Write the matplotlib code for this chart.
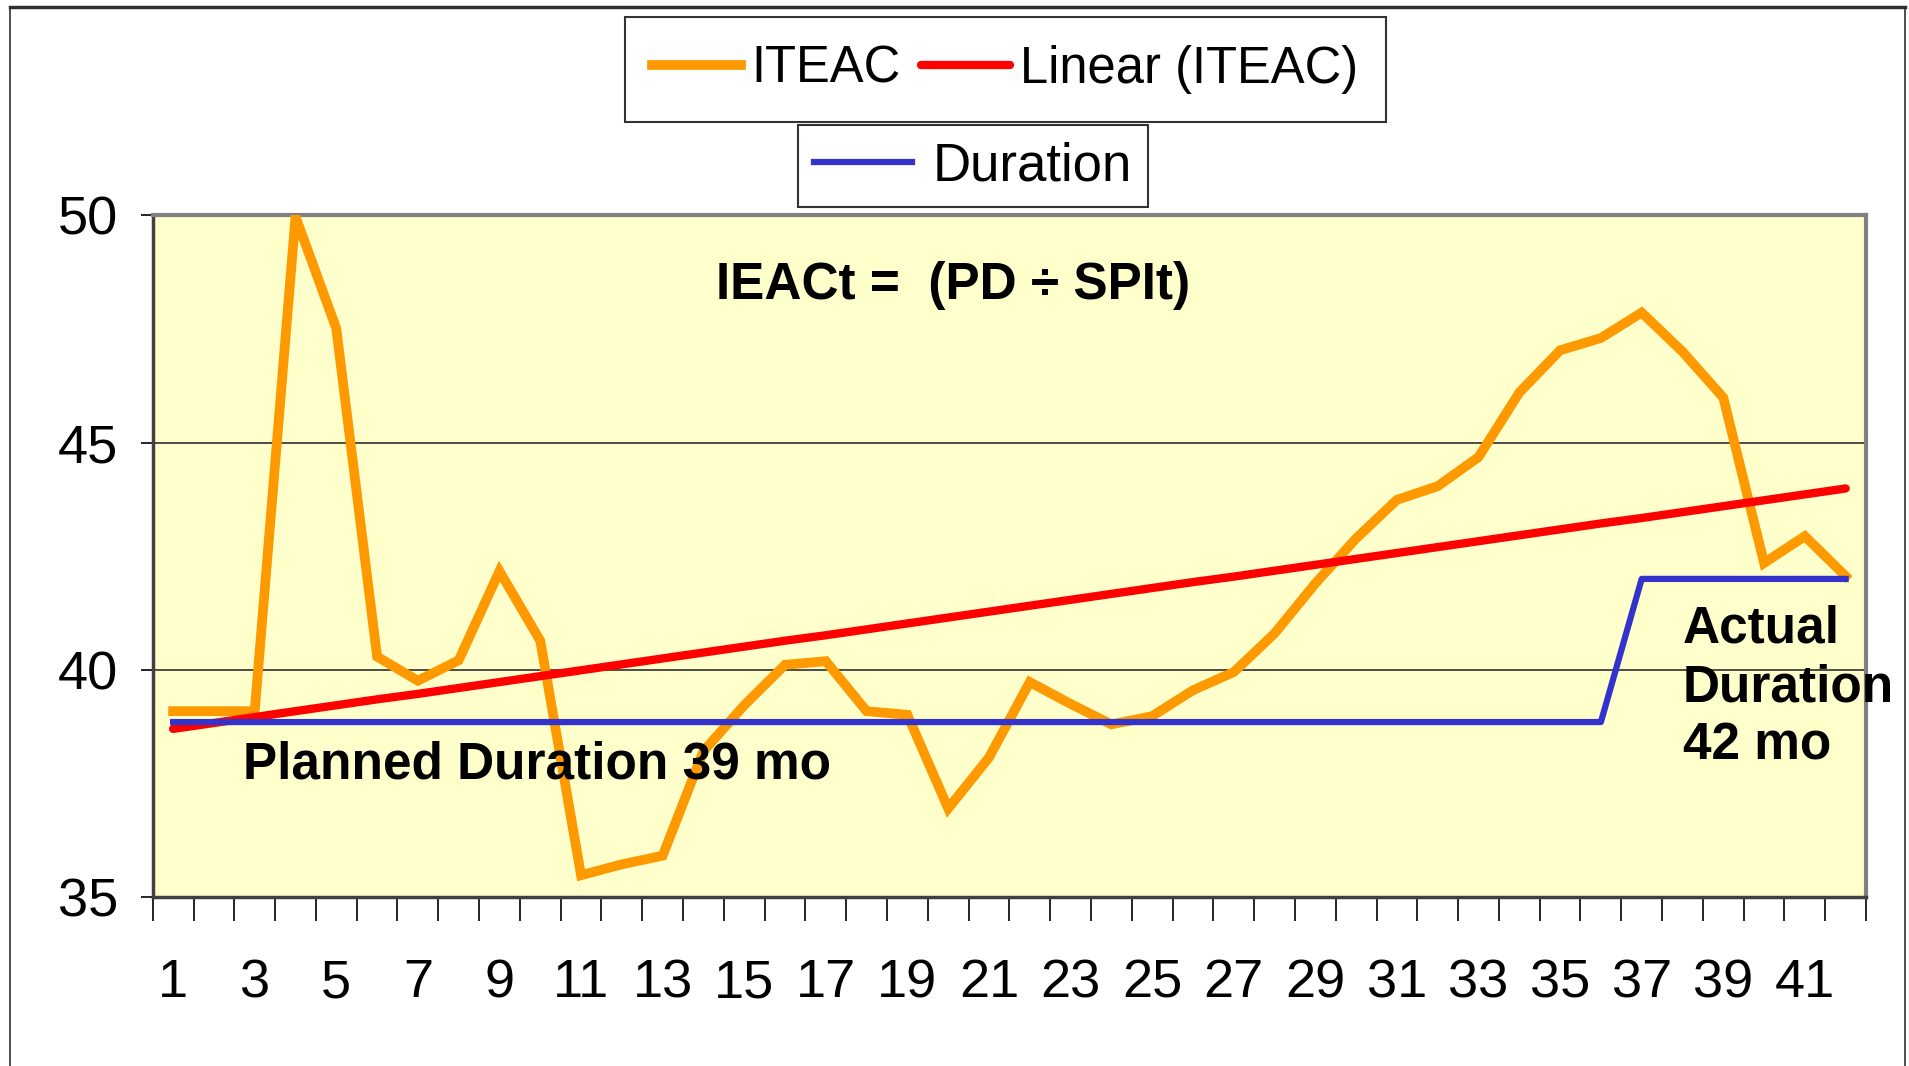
import numpy as np
import matplotlib
matplotlib.use('Agg')
import matplotlib.pyplot as plt
from matplotlib.ticker import MultipleLocator, FixedLocator
from matplotlib.lines import Line2D

plt.rcParams['font.family'] = ['Liberation Sans', 'DejaVu Sans']

#--data
months = list(range(1, 43))
iteac = [39.09, 39.09, 39.09, 49.97, 47.51, 40.29, 39.76, 40.21, 42.17, 40.64,
         35.48, 35.72, 35.91, 38.21, 39.22, 40.11, 40.19, 39.09, 39.01, 36.95,
         38.07, 39.73, 39.25, 38.80, 38.98, 39.55, 39.95, 40.80, 41.90, 42.89,
         43.74, 44.04, 44.68, 46.10, 47.03, 47.30, 47.86, 47.00, 45.99, 42.35,
         42.94, 42.06]
linear = [38.70, 38.83, 38.96, 39.09, 39.22, 39.35, 39.47, 39.60, 39.73, 39.86,
          39.99, 40.12, 40.25, 40.38, 40.51, 40.64, 40.76, 40.89, 41.02, 41.15,
          41.28, 41.41, 41.54, 41.67, 41.80, 41.93, 42.05, 42.18, 42.31, 42.44,
          42.57, 42.70, 42.83, 42.96, 43.09, 43.22, 43.34, 43.47, 43.60, 43.73,
          43.86, 43.99]
duration = [38.85]*36 + [42.0]*6
xticklabels = [str(m) for m in range(1, 42, 2)]

fig = plt.figure(figsize=(19.09, 10.66), dpi=100)
ax = fig.add_axes([0.080, 0.1585, 0.8975, 0.6395])
ax.set_facecolor('#FFFFCC')

#--gridlines
for yv in [40, 45]:
    ax.axhline(yv, color='#303030', lw=1.2, zorder=1)

l1, = ax.plot(months, iteac, color='#FF9900', lw=7, solid_joinstyle='miter', zorder=3)
l2, = ax.plot(months, linear, color='#FF0000', lw=6, solid_capstyle='round', zorder=4)
l3, = ax.plot(months, duration, color='#3333CC', lw=4.5, zorder=5)

ax.set_xlim(0.5, 42.5)
ax.set_ylim(35, 50)

ax.xaxis.set_major_locator(FixedLocator(range(1, 42, 2)))
ax.set_xticklabels(xticklabels)
ax.xaxis.set_minor_locator(MultipleLocator(1, offset=0.5))
ax.yaxis.set_major_locator(MultipleLocator(5))
ax.tick_params(axis='x', which='major', length=0, pad=44, labelsize=39)
ax.tick_params(axis='x', which='minor', length=17, width=1.2, direction='out', color='black')
ax.tick_params(axis='y', which='major', length=9, width=1.2, direction='out', pad=16, labelsize=39)

for s in ['top', 'right']:
    ax.spines[s].set_color('#808080')
    ax.spines[s].set_linewidth(3)
for s in ['left', 'bottom']:
    ax.spines[s].set_color('#404040')
    ax.spines[s].set_linewidth(2.5)

#--annotations
ax.text(0.329, 0.897, 'IEACt =  (PD \u00f7 SPIt)', transform=ax.transAxes,
        fontsize=37, fontweight='bold', ha='left', va='center')
ax.text(0.0528, 0.194, 'Planned Duration 39 mo', transform=ax.transAxes,
        fontsize=37, fontweight='bold', ha='left', va='center')
ax.text(0.893, 0.307, 'Actual\nDuration\n42 mo', transform=ax.transAxes,
        fontsize=37, fontweight='bold', ha='left', va='center', linespacing=1.25)

#--legends
leg1 = fig.legend([l1, l2], ['ITEAC', 'Linear (ITEAC)'], loc='center',
                  bbox_to_anchor=(0.5265, 0.935), ncol=2, fontsize=36.5,
                  frameon=True, fancybox=False, edgecolor='black',
                  handlelength=1.75, handletextpad=0.2, columnspacing=0.4,
                  borderpad=0.55, borderaxespad=0)
leg1.get_frame().set_linewidth(1.5)
leg2 = fig.legend([l3], ['Duration'], loc='center',
                  bbox_to_anchor=(0.5097, 0.844), fontsize=38,
                  frameon=True, fancybox=False, edgecolor='black',
                  handlelength=1.85, handletextpad=0.4,
                  borderpad=0.3, borderaxespad=0)
leg2.get_frame().set_linewidth(1.5)

#--outer frame
fig.add_artist(Line2D([0.005, 0.998], [0.9934, 0.9934], color='#303030', lw=2.5, transform=fig.transFigure))
fig.add_artist(Line2D([0.005, 0.005], [0.0, 0.9934], color='#303030', lw=1.2, transform=fig.transFigure))
fig.add_artist(Line2D([0.998, 0.998], [0.0, 0.9934], color='#303030', lw=1.2, transform=fig.transFigure))

fig.savefig('out.png', dpi=100)
